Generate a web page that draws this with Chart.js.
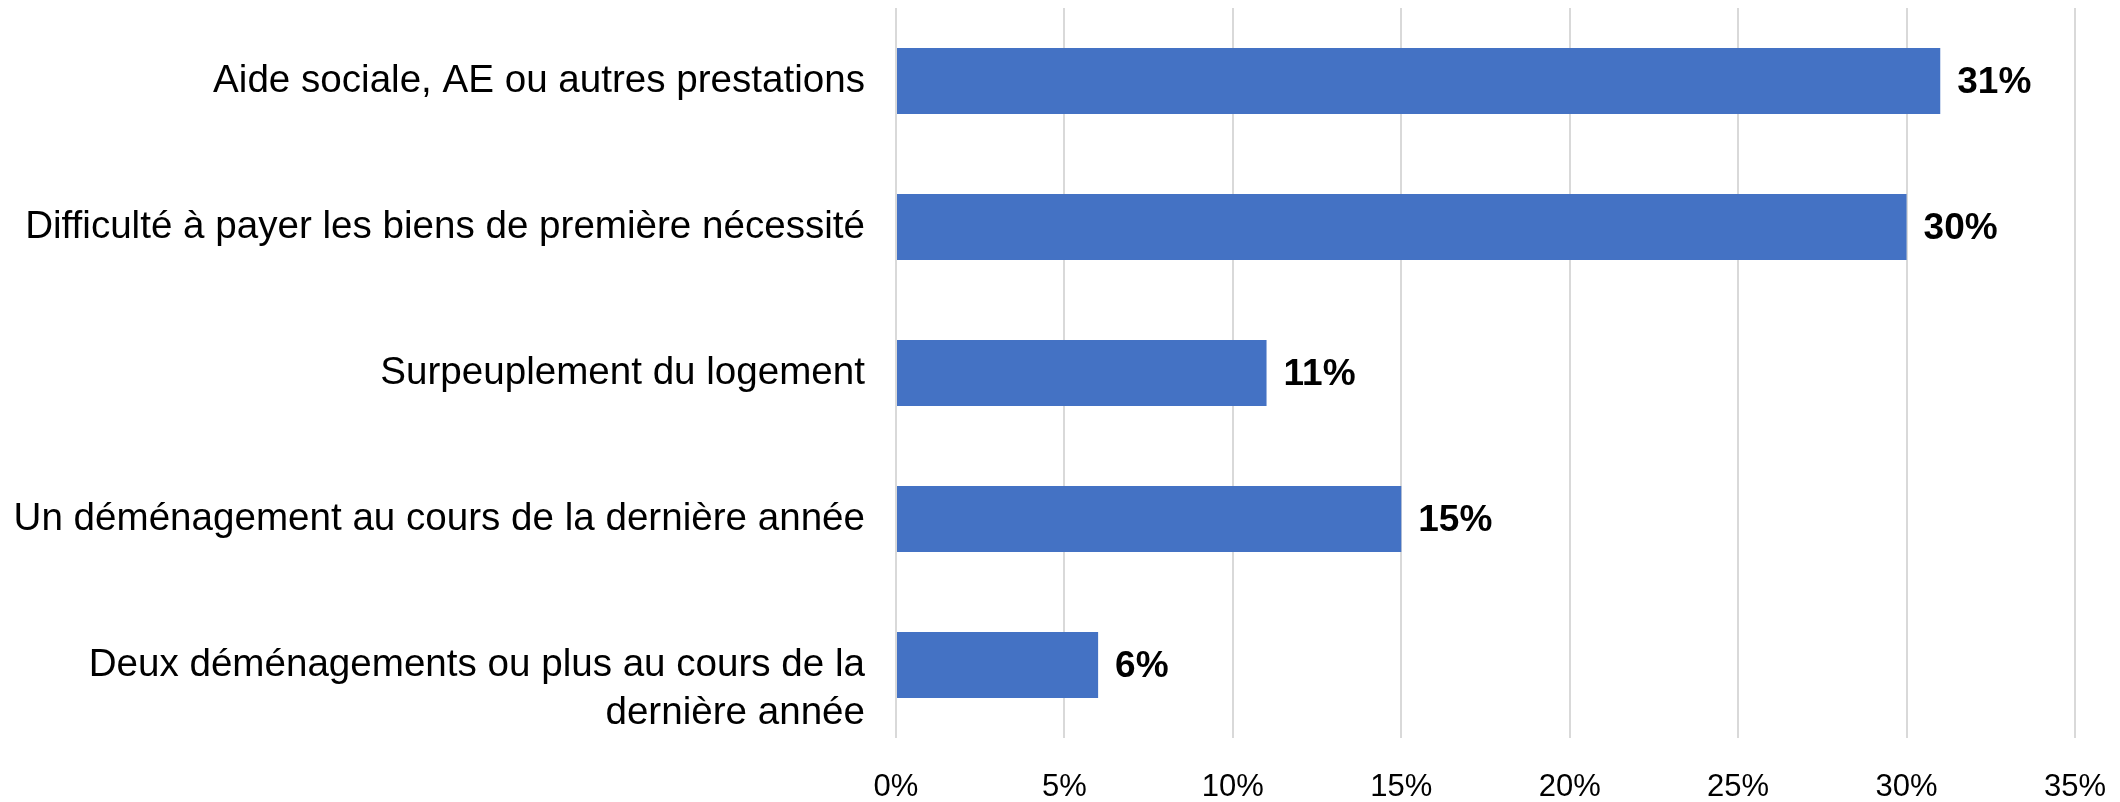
<!DOCTYPE html>
<html lang="fr">
<head>
<meta charset="utf-8">
<title>Indicateurs</title>
<script src="https://cdn.jsdelivr.net/npm/chart.js@4.4.1/dist/chart.umd.min.js"></script>
<style>
    html, body { margin: 0; padding: 0; background: #fff; }
    #wrap { width: 2120px; height: 802px; position: relative; }
</style>
</head>
<body>
<div id="wrap"><canvas id="chart"></canvas></div>
<script>
// Categories (top to bottom) and values in %
const categories = [
    'Aide sociale, AE ou autres prestations',
    'Difficulté à payer les biens de première nécessité',
    'Surpeuplement du logement',
    'Un déménagement au cours de la dernière année',
    ['', 'Deux déménagements ou plus au cours de la', 'dernière année']
];
const values = [31, 30, 11, 15, 6];
const valueLabels = ['31%', '30%', '11%', '15%', '6%'];
const xTicks = [0, 5, 10, 15, 20, 25, 30, 35];

const FONT = '"Liberation Sans", Arial, sans-serif';

// Draw the bold value next to the end of each bar
const barValuePlugin = {
    id: 'barValues',
    afterDatasetsDraw(chart) {
        const ctx = chart.ctx;
        const meta = chart.getDatasetMeta(0);
        ctx.save();
        ctx.font = 'bold 37px ' + FONT;
        ctx.fillStyle = '#000';
        ctx.textAlign = 'left';
        ctx.textBaseline = 'middle';
        meta.data.forEach((bar, i) => {
            ctx.fillText(valueLabels[i], bar.x + 17, bar.y + 2);
        });
        ctx.restore();
    }
};

const ctx = document.getElementById('chart').getContext('2d');
new Chart(ctx, {
    type: 'bar',
    data: {
        labels: categories,
        datasets: [{
            data: values,
            backgroundColor: '#4472C4',
            borderWidth: 0,
            barPercentage: 0.452,
            categoryPercentage: 1
        }]
    },
    options: {
        indexAxis: 'y',
        responsive: true,
        maintainAspectRatio: false,
        animation: false,
        layout: {
            padding: { top: 8, right: 45, bottom: 0, left: 0 }
        },
        plugins: {
            legend: { display: false },
            tooltip: { enabled: false }
        },
        scales: {
            x: {
                min: 0,
                max: 35,
                afterBuildTicks: (scale) => {
                    scale.ticks = xTicks.map(v => ({ value: v }));
                },
                afterFit: (scale) => {
                    scale.height = 64;
                    scale.paddingLeft = 0;
                    scale.paddingRight = 0;
                },
                grid: {
                    color: '#d9d9d9',
                    lineWidth: 2,
                    drawTicks: false
                },
                border: { display: false },
                ticks: {
                    padding: 31,
                    color: '#000',
                    font: { family: FONT, size: 31 },
                    callback: (v) => v + '%'
                }
            },
            y: {
                afterFit: (scale) => {
                    scale.width = 896;
                    scale.paddingTop = 0;
                    scale.paddingBottom = 0;
                },
                grid: { display: false, drawTicks: false },
                border: { display: false },
                ticks: {
                    autoSkip: false,
                    padding: 31,
                    color: '#000',
                    font: { family: FONT, size: 38.6, lineHeight: 1.24 }
                }
            }
        }
    },
    plugins: [barValuePlugin]
});
</script>
</body>
</html>
